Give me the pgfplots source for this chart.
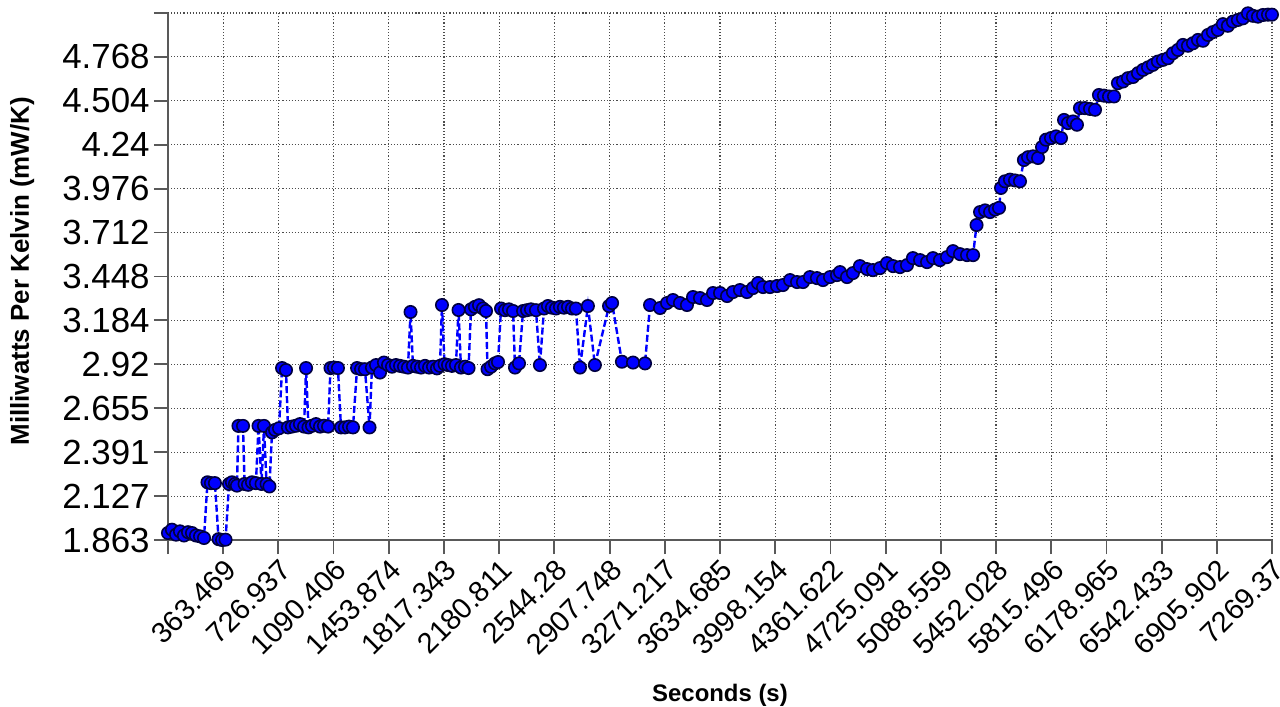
\documentclass[border=0pt]{standalone}
\usepackage{fontspec}
\setmainfont{Liberation Sans}
\usepackage{pgfplots}
\pgfplotsset{compat=1.18}
\begin{document}
\begin{tikzpicture}
\begin{axis}[
  width=552bp, height=263.5bp, scale only axis,
  xmin=0, xmax=7269.37, ymin=1.863, ymax=5.032,
  axis x line*=bottom, axis y line*=left,
  axis line style={black!65, line width=0.9bp},
  xtick={0,363.469,726.937,1090.406,1453.874,1817.343,2180.811,2544.28,2907.748,3271.217,3634.685,3998.154,4361.622,4725.091,5088.559,5452.028,5815.496,6178.965,6542.433,6905.902,7269.37},
  xticklabels={,363.469,726.937,1090.406,1453.874,1817.343,2180.811,2544.28,2907.748,3271.217,3634.685,3998.154,4361.622,4725.091,5088.559,5452.028,5815.496,6178.965,6542.433,6905.902,7269.37},
  ytick={1.863,2.127,2.391,2.655,2.92,3.184,3.448,3.712,3.976,4.24,4.504,4.768,5.032},
  yticklabels={1.863,2.127,2.391,2.655,2.92,3.184,3.448,3.712,3.976,4.24,4.504,4.768,},
  tick align=outside,
  major tick length=7bp,
  tick style={black!65, line width=0.9bp},
  grid=major,
  grid style={black!70, line width=0.55bp, densely dotted},
  xticklabel style={rotate=45, anchor=north east, inner sep=1bp, font=\fontsize{14.5}{16}\selectfont},
  yticklabel style={inner sep=2bp, font=\fontsize{17.5}{19}\selectfont},
  xlabel={Seconds (s)},
  ylabel={Milliwatts Per Kelvin (mW/K)},
  xlabel style={at={(axis description cs:0.5,-0.295)}, anchor=center, font=\bfseries\fontsize{12}{14}\selectfont},
  ylabel style={at={(axis description cs:-0.132,0.51)}, anchor=center, font=\bfseries\fontsize{13}{15}\selectfont},
  clip=false,
]
\coordinate (O) at (rel axis cs:0,0);
\addplot[color=blue, line width=1.2bp, dash pattern=on 3.5bp off 1.5bp,
  mark=*, mark size=3.1bp, mark options={solid, fill=blue, draw=black!75!blue, line width=0.8bp}]
table {
x y
0 1.905
26 1.925
53 1.895
79 1.915
105 1.89
132 1.91
158 1.905
184 1.89
211 1.885
237 1.875
260 2.21
283 2.205
309 2.205
333 1.868
356 1.863
379 1.865
402 2.20
421 2.21
441 2.20
454 2.19
464 2.549
494 2.549
504 2.20
527 2.195
553 2.21
579 2.205
596 2.549
616 2.20
632 2.549
649 2.20
668 2.185
685 2.51
705 2.525
731 2.535
751 2.897
777 2.885
790 2.54
816 2.545
843 2.55
869 2.56
896 2.545
909 2.897
925 2.54
948 2.55
975 2.56
1001 2.545
1027 2.55
1054 2.545
1070 2.897
1093 2.90
1119 2.897
1139 2.54
1165 2.54
1192 2.545
1218 2.54
1245 2.897
1271 2.89
1297 2.89
1327 2.54
1343 2.90
1370 2.915
1396 2.87
1422 2.93
1449 2.915
1475 2.905
1501 2.915
1528 2.91
1554 2.905
1580 2.90
1597 3.234
1613 2.91
1640 2.905
1666 2.90
1692 2.91
1719 2.90
1745 2.905
1771 2.895
1791 2.91
1804 3.276
1821 2.92
1844 2.915
1870 2.91
1896 2.915
1913 3.246
1929 2.90
1956 2.905
1979 2.897
1995 3.25
2021 3.265
2048 3.275
2074 3.255
2094 3.24
2104 2.89
2127 2.905
2153 2.925
2173 2.933
2193 3.255
2219 3.245
2245 3.25
2272 3.24
2285 2.90
2311 2.925
2338 3.24
2364 3.245
2390 3.25
2423 3.245
2449 2.915
2476 3.255
2502 3.27
2528 3.26
2555 3.255
2581 3.265
2607 3.26
2634 3.265
2660 3.255
2686 3.255
2713 2.90
2765 3.27
2811 2.915
2904 3.27
2924 3.288
2989 2.935
3062 2.93
3141 2.925
3174 3.276
3240 3.258
3286 3.288
3325 3.306
3371 3.288
3417 3.276
3457 3.324
3503 3.318
3549 3.306
3589 3.348
3635 3.348
3681 3.33
3720 3.354
3766 3.366
3812 3.354
3852 3.378
3885 3.408
3918 3.384
3964 3.384
4010 3.39
4049 3.396
4096 3.426
4142 3.414
4181 3.414
4227 3.444
4273 3.438
4313 3.426
4359 3.444
4405 3.456
4425 3.474
4471 3.444
4510 3.468
4556 3.51
4603 3.492
4642 3.486
4688 3.498
4734 3.528
4774 3.51
4820 3.504
4866 3.516
4905 3.558
4952 3.546
4998 3.534
5037 3.558
5083 3.546
5129 3.564
5169 3.60
5215 3.582
5261 3.576
5301 3.576
5324 3.757
5347 3.835
5380 3.845
5413 3.835
5446 3.85
5472 3.86
5485 3.98
5511 4.02
5544 4.03
5577 4.025
5610 4.02
5636 4.148
5663 4.165
5696 4.17
5729 4.16
5755 4.226
5781 4.27
5814 4.28
5847 4.29
5880 4.28
5900 4.389
5926 4.37
5959 4.38
5985 4.36
6005 4.46
6038 4.46
6071 4.455
6104 4.45
6130 4.539
6163 4.535
6196 4.53
6229 4.53
6255 4.61
6288 4.62
6321 4.64
6354 4.647
6387 4.67
6420 4.69
6453 4.705
6485 4.72
6518 4.74
6551 4.75
6584 4.76
6617 4.79
6650 4.81
6683 4.84
6716 4.835
6749 4.85
6782 4.87
6815 4.865
6848 4.90
6880 4.917
6913 4.93
6946 4.965
6979 4.955
7012 4.98
7045 4.99
7078 5.0
7111 5.03
7144 5.015
7177 5.01
7210 5.02
7243 5.022
7269 5.022
};
\end{axis}
\pgfresetboundingbox
\path (O) ++(-84bp,-83.5bp) rectangle ++(640bp,353.5bp);
\end{tikzpicture}
\end{document}
